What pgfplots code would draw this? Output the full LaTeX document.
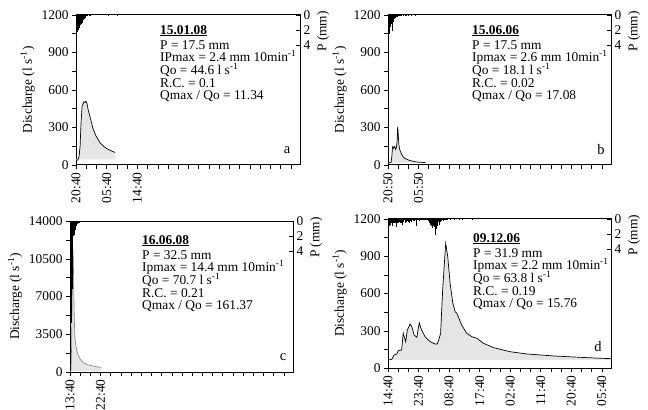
\documentclass[border=0pt]{standalone}
\usepackage{pgfplots}
\pgfplotsset{compat=1.18}
\usepackage{fontspec}
\setmainfont{Liberation Serif}
\newcommand{\fs}{\fontsize{13.4bp}{12.6bp}\selectfont}
\newcommand{\fsl}{\fontsize{14.5bp}{14bp}\selectfont}
\newcommand{\sps}[1]{\smash{\textsuperscript{#1}}}
\pgfplotsset{
  panel/.style={scale only axis, width=223bp, height=150bp, xmin=0, xmax=65.7,
    anchor=south west, scaled ticks=false,
    axis line style={line width=1pt},
    tick style={line width=0.5pt, black},
    major tick length=4bp, minor tick length=4bp,
    tick label style={font=\fs}, label style={font=\fs},
    /pgf/number format/assume math mode=true},
  qaxis/.style={panel, tick pos=left, tick align=outside, xtick={0,3,...,63},
    xticklabel style={rotate=90, anchor=east},
    ylabel={Discharge (l s\textsuperscript{-1})}},
  paxis/.style={panel, ymin=0, ymax=20, y dir=reverse, hide x axis,
    axis y line*=right, tick align=inside, ytick={0,2,4}, yticklabels={0,2,4},
    ylabel={P (mm)}, ylabel style={at={(ticklabel cs:0.89)}}},
  rain/.style={ycomb, black, line width=0.75pt},
  qfill/.style={fill=gray!20, draw=none},
  qline/.style={black, line width=0.7pt},
}
\begin{document}
\begin{tikzpicture}
\useasboundingbox (0bp,0bp) rectangle (648bp,410bp);

% ---------------- panel a
\begin{axis}[qaxis, at={(76bp,245bp)}, width=224bp, ymin=0, ymax=1200,
  ytick={0,150,...,1200}, yticklabels={0,,300,,600,,900,,1200},
  xticklabels={20:40,,,05:40,,,14:40}]
\addplot[qfill] coordinates {(0,44.6) (0.0,35) (0.6,42) (0.9,70) (1.2,150) (1.5,350) (1.8,470) (2.1,490) (2.3,505) (2.6,500) (2.9,510) (3.2,495) (3.5,450) (4.1,386) (5.0,290) (5.9,230) (7.1,176) (8.3,145) (9.4,125) (10.6,110) (11.5,100) (11.5,44.6)} -- cycle;
\addplot[qline] coordinates {(0.0,35) (0.6,42) (0.9,70) (1.2,150) (1.5,350) (1.8,470) (2.1,490) (2.3,505) (2.6,500) (2.9,510) (3.2,495) (3.5,450) (4.1,386) (5.0,290) (5.9,230) (7.1,176) (8.3,145) (9.4,125) (10.6,110) (11.5,100)};
\end{axis}
\begin{axis}[paxis, at={(76bp,245bp)}, width=224bp]
\addplot[rain] coordinates {(0.0,1.2) (0.17,2.4) (0.33,2.3) (0.5,1.9) (0.67,2.0) (0.83,1.6) (1.0,1.7) (1.17,1.4) (1.33,1.3) (1.5,1.2) (1.67,1.0) (1.83,1.1) (2.0,0.8) (2.17,0.7) (2.33,0.6) (2.5,0.5) (2.67,0.4) (2.83,0.3) (3.0,0.2) (3.17,0.15) (3.33,0.1) (4.0,0.1) (4.2,0.1) (9.5,0.15) (12,0.1)};
\end{axis}
\node[anchor=north west, inner sep=0, align=left, font=\fs] at (160bp,385bp)
  {\underline{\textbf{15.01.08}}\\[2.5bp] P = 17.5 mm\\ IPmax = 2.4 mm 10min\sps{-1}\\ Qo = 44.6 l s\sps{-1}\\ R.C. = 0.1\\ Qmax / Qo = 11.34};
\node[font=\fsl] at (287bp,260bp) {a};

% ---------------- panel b
\begin{axis}[qaxis, at={(388bp,245bp)}, ymin=0, ymax=1200,
  ytick={0,150,...,1200}, yticklabels={0,,300,,600,,900,,1200},
  xticklabels={20:50,,,05:50}]
\addplot[qfill] coordinates {(0,18.1) (0,15) (0.5,18) (0.9,20) (1.1,60) (1.3,130) (1.4,147) (1.6,135) (1.8,145) (2.0,150) (2.2,125) (2.5,140) (2.7,200) (2.85,307) (3.0,250) (3.2,160) (3.5,120) (4.0,85) (4.5,65) (5.0,52) (6.0,40) (7.0,32) (8.0,26) (9.0,23) (10.0,21) (11.0,20) (11.0,18.1)} -- cycle;
\addplot[qline] coordinates {(0,15) (0.5,18) (0.9,20) (1.1,60) (1.3,130) (1.4,147) (1.6,135) (1.8,145) (2.0,150) (2.2,125) (2.5,140) (2.7,200) (2.85,307) (3.0,250) (3.2,160) (3.5,120) (4.0,85) (4.5,65) (5.0,52) (6.0,40) (7.0,32) (8.0,26) (9.0,23) (10.0,21) (11.0,20)};
\end{axis}
\begin{axis}[paxis, at={(388bp,245bp)}]
\addplot[rain] coordinates {(0.0,2.6) (0.17,2.3) (0.33,2.5) (0.5,1.8) (0.67,1.5) (0.83,1.6) (1.0,1.2) (1.17,2.2) (1.33,2.0) (1.5,0.9) (1.67,0.6) (1.83,0.5) (2.0,0.4) (2.17,0.4) (2.33,0.3) (2.5,0.3) (2.67,0.2) (2.83,0.3) (3.0,0.2) (3.17,0.2) (3.33,0.1) (3.5,0.1) (3.67,0.1) (4.0,0.1) (4.5,0.1) (5.0,0.1) (5.5,0.1) (6.0,0.1) (7.0,0.1) (8.0,0.1)};
\end{axis}
\node[anchor=north west, inner sep=0, align=left, font=\fs] at (472bp,385bp)
  {\underline{\textbf{15.06.06}}\\[2.5bp] P = 17.5 mm\\ Ipmax = 2.6 mm 10min\sps{-1}\\ Qo = 18.1 l s\sps{-1}\\ R.C. = 0.02\\ Qmax / Qo = 17.08};
\node[font=\fsl] at (601bp,260bp) {b};

% ---------------- panel c
\begin{axis}[qaxis, at={(70bp,38bp)}, height=151bp, ymin=0, ymax=14000,
  ytick={0,1750,...,14000}, yticklabels={0,,3500,,7000,,10500,,14000},
  xticklabels={13:40,,,22:40}]
\addplot[qfill] coordinates {(0,70.7) (0,70) (0.3,80) (0.45,2000) (0.6,6000) (0.75,9500) (0.9,11400) (1.05,9000) (1.2,6000) (1.35,4000) (1.5,3000) (1.7,2500) (2.0,2000) (2.5,1500) (3.0,1200) (3.5,1000) (4.0,850) (5.0,700) (6.0,600) (7.0,550) (8.0,480) (9.0,430) (9.2,420) (9.2,70.7)} -- cycle;
\addplot[gray, line width=0.6pt] coordinates {(0,70) (0.3,80) (0.45,2000) (0.6,6000) (0.75,9500) (0.9,11400) (1.05,9000) (1.2,6000) (1.35,4000) (1.5,3000) (1.7,2500) (2.0,2000) (2.5,1500) (3.0,1200) (3.5,1000) (4.0,850) (5.0,700) (6.0,600) (7.0,550) (8.0,480) (9.0,430) (9.2,420)};
\end{axis}
\begin{axis}[paxis, at={(70bp,38bp)}, height=151bp]
\addplot[rain] coordinates {(0.0,6) (0.17,14.4) (0.33,13.5) (0.5,12) (0.67,9) (0.83,4) (1.0,2.0) (1.17,1.8) (1.33,1.5) (1.5,1.2) (1.67,0.8) (1.83,0.6) (2.0,0.5) (2.17,0.4) (2.33,0.3) (2.5,0.3) (2.67,0.2) (2.83,0.2) (3.0,0.1)};
\end{axis}
\node[anchor=north west, inner sep=0, align=left, font=\fs] at (142bp,175bp)
  {\underline{\textbf{16.06.08}}\\[2.5bp] P = 32.5 mm\\ Ipmax = 14.4 mm 10min\sps{-1}\\ Qo = 70.7 l s\sps{-1}\\ R.C. = 0.21\\ Qmax / Qo = 161.37};
\node[font=\fsl] at (283bp,53bp) {c};

% ---------------- panel d
\begin{axis}[qaxis, at={(388bp,42bp)}, height=149bp, ymin=0, ymax=1200,
  ytick={0,150,...,1200}, yticklabels={0,,300,,600,,900,,1200},
  xticklabels={14:40,,,23:40,,,08:40,,,17:40,,,02:40,,,11:40,,,20:40,,,05:40}]
\addplot[qfill] coordinates {(0,63.8) (0,64) (1.1,70) (1.8,105) (2.6,113) (3.0,140) (4.0,145) (4.5,280) (5.2,212) (5.7,306) (6.5,354) (7.0,333) (7.7,266) (8.5,247) (9.2,365) (9.7,320) (10.9,252) (12.4,212) (13.9,193) (14.5,193) (15.1,239) (15.5,280) (16.1,628) (17.0,1004) (17.6,896) (18.3,682) (19.1,521) (19.8,453) (20.3,440) (20.7,413) (21.7,346) (23.2,279) (24.7,252) (26.2,239) (28.1,199) (31.1,164) (36.0,131) (40.9,113) (48.8,97) (56.6,86) (65.7,75) (65.7,63.8)} -- cycle;
\addplot[qline] coordinates {(0,64) (1.1,70) (1.8,105) (2.6,113) (3.0,140) (4.0,145) (4.5,280) (5.2,212) (5.7,306) (6.5,354) (7.0,333) (7.7,266) (8.5,247) (9.2,365) (9.7,320) (10.9,252) (12.4,212) (13.9,193) (14.5,193) (15.1,239) (15.5,280) (16.1,628) (17.0,1004) (17.6,896) (18.3,682) (19.1,521) (19.8,453) (20.3,440) (20.7,413) (21.7,346) (23.2,279) (24.7,252) (26.2,239) (28.1,199) (31.1,164) (36.0,131) (40.9,113) (48.8,97) (56.6,86) (65.7,75)};
\end{axis}
\begin{axis}[paxis, at={(388bp,42bp)}, height=149bp]
\addplot[rain] coordinates {
(0.00,0.6) (0.17,0.8) (0.33,0.7) (0.50,0.9) (0.67,0.5) (0.83,0.8)
(1.00,0.6) (1.17,0.7) (1.33,0.9) (1.50,0.4) (1.67,0.6) (1.83,0.5)
(2.00,0.3) (2.17,0.5) (2.33,0.9) (2.50,1.1) (2.67,0.6) (2.83,0.4)
(3.00,0.5) (3.17,0.3) (3.33,0.4) (3.50,0.6) (3.67,0.3) (3.83,0.2)
(4.00,0.5) (4.17,0.8) (4.33,0.6) (4.50,0.4) (4.67,0.3) (4.83,0.2)
(5.00,0.3) (5.17,0.5) (5.33,0.4) (5.50,0.3) (5.67,0.2) (5.83,0.3)
(6.00,0.4) (6.17,0.6) (6.33,0.5) (6.50,0.3) (6.67,0.2) (6.83,0.4)
(7.00,0.3) (7.17,0.2) (7.33,0.3) (7.50,0.2) (7.67,0.3) (7.83,0.2)
(8.00,0.2) (8.17,0.1) (8.33,0.3) (8.50,0.9) (8.67,0.2) (8.83,0.1)
(9.00,0.2) (9.17,0.3) (9.33,0.2) (9.50,0.1) (9.67,0.2) (9.83,0.1)
(10.00,0.1) (10.17,0.2) (10.33,0.1) (10.50,0.2) (10.67,0.1) (10.83,0.1)
(11.00,0.1) (11.17,0.2) (11.33,0.1) (11.50,0.1) (11.67,0.2) (11.83,0.1)
(12.00,0.3) (12.17,0.5) (12.33,0.4) (12.50,0.8) (12.67,0.6) (12.83,0.9)
(13.00,1.2) (13.17,0.7) (13.33,0.5) (13.50,0.9) (13.67,1.1) (13.83,0.6)
(14.00,2.2) (14.17,1.4) (14.33,0.9) (14.50,1.0) (14.67,0.6) (14.83,0.4)
(15.00,0.8) (15.17,0.5) (15.33,0.3) (15.50,0.4) (15.67,0.2) (15.83,0.3)
(16.00,0.2) (16.17,0.3) (16.33,0.1) (16.50,0.2) (16.67,0.1) (16.83,0.1)
(17.00,0.2) (17.17,0.1) (17.50,0.1) (18.50,0.1) (19.50,0.1) (21.00,0.2) (22.00,0.1) (25.00,0.1)};
\end{axis}
\node[anchor=north west, inner sep=0, align=left, font=\fs] at (473bp,177bp)
  {\underline{\textbf{09.12.06}}\\[2.5bp] P = 31.9 mm\\ Ipmax = 2.2 mm 10min\sps{-1}\\ Qo = 63.8 l s\sps{-1}\\ R.C. = 0.19\\ Qmax / Qo = 15.76};
\node[font=\fsl] at (598bp,63bp) {d};
\end{tikzpicture}
\end{document}
